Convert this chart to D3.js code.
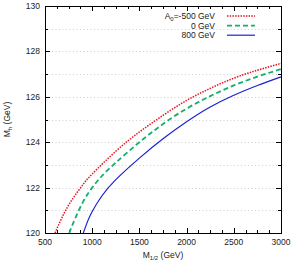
<!DOCTYPE html>
<html lang="en">
<head>
  <meta charset="UTF-8">
  <title>Mh vs M1/2</title>
  <script src="https://d3js.org/d3.v7.min.js"></script>
  <style>
    body { margin: 0; background: #fff; }
    svg text { font-family: "Liberation Sans", Arial, sans-serif; fill: #222; }
  </style>
</head>
<body>
  <svg id="chart" width="293" height="267"></svg>
  <script>
    // data
    const mHalf = [500, 1000, 1500, 2000, 2500, 3000];
    const mhTicks = [120, 122, 124, 126, 128, 130];

    const seriesNames = ["A0=-500 GeV", "0 GeV", "800 GeV"];
    const redPts = [[606, 120], [700, 120.85], [800, 121.55], [900, 122.12], [1000, 122.6], [1250, 123.6],
      [1500, 124.45], [1750, 125.18], [2000, 125.84], [2250, 126.37], [2500, 126.82], [2750, 127.17], [3000, 127.47]];
    const greenPts = [[757, 120], [800, 120.45], [900, 121.35], [1000, 122.0], [1100, 122.5], [1250, 123.1],
      [1500, 124.0], [1750, 124.8], [2000, 125.48], [2250, 126.03], [2500, 126.5], [2750, 126.89], [3000, 127.22]];
    const bluePts = [[906, 120], [950, 120.5], [1000, 120.95], [1100, 121.62], [1250, 122.35], [1500, 123.3],
      [1750, 124.15], [2000, 124.9], [2250, 125.55], [2500, 126.07], [2750, 126.5], [3000, 126.88]];

    const svg = d3.select("#chart");
    const margin = { top: 6, right: 12, bottom: 34, left: 45 };
    const width = 293 - margin.left - margin.right;
    const height = 267 - margin.top - margin.bottom;

    const g = svg.append("g").attr("transform", `translate(${margin.left},${margin.top})`);

    const x = d3.scaleLinear().domain([500, 3000]).range([0, width]);
    const y = d3.scaleLinear().domain([120, 130]).range([height, 0]);

    // horizontal dotted grid
    g.append("g")
      .selectAll("line")
      .data(d3.range(121, 130))
      .enter().append("line")
      .attr("x1", 0).attr("x2", width)
      .attr("y1", d => Math.round(y(d)) + 0.5).attr("y2", d => Math.round(y(d)) + 0.5)
      .attr("stroke", "#bbb")
      .attr("stroke-width", 0.7)
      .attr("stroke-dasharray", "1,2.5");

    // ticks on all four sides, pointing inward
    const xMinor = d3.range(500, 3001, 125);
    const yMinor = d3.range(120, 131, 1);
    const tickG = g.append("g").attr("stroke", "#000").attr("stroke-width", 1);
    xMinor.forEach(v => {
      const len = mHalf.includes(v) ? 5 : 3;
      const px = Math.round(x(v)) + 0.5;
      tickG.append("line").attr("x1", px).attr("x2", px).attr("y1", height).attr("y2", height - len);
      tickG.append("line").attr("x1", px).attr("x2", px).attr("y1", 0).attr("y2", len);
    });
    yMinor.forEach(v => {
      const len = mhTicks.includes(v) ? 5 : 3;
      const py = Math.round(y(v)) + 0.5;
      tickG.append("line").attr("x1", 0).attr("x2", len).attr("y1", py).attr("y2", py);
      tickG.append("line").attr("x1", width).attr("x2", width - len).attr("y1", py).attr("y2", py);
    });

    // tick labels
    g.append("g").selectAll("text")
      .data(mHalf)
      .enter().append("text")
      .attr("x", d => x(d))
      .attr("y", height + 12)
      .attr("text-anchor", "middle")
      .style("font-size", "8.5px")
      .text(d => d);
    g.append("g").selectAll("text")
      .data(mhTicks)
      .enter().append("text")
      .attr("x", -5)
      .attr("y", d => y(d) + 3)
      .attr("text-anchor", "end")
      .style("font-size", "8.5px")
      .text(d => d);

    // frame
    g.append("rect")
      .attr("x", 0.5).attr("y", 0.5)
      .attr("width", width).attr("height", height)
      .attr("fill", "none").attr("stroke", "#000").attr("stroke-width", 1);

    // curves
    const line = d3.line().x(d => x(d[0])).y(d => y(d[1])).curve(d3.curveNatural);
    const styles = [
      { data: redPts, color: "#e3161d", dash: "1.5,1.2", w: 1.5 },
      { data: greenPts, color: "#11b06c", dash: "5,3", w: 1.8 },
      { data: bluePts, color: "#1c22d4", dash: null, w: 1.2 }
    ];
    const plot = g.append("g");
    styles.forEach(s => {
      plot.append("path")
        .datum(s.data)
        .attr("d", line)
        .attr("fill", "none")
        .attr("stroke", s.color)
        .attr("stroke-width", s.w)
        .attr("stroke-dasharray", s.dash);
    });

    // legend
    const legend = g.append("g").attr("transform", `translate(${width - 13},10)`);
    styles.forEach((s, i) => {
      const row = legend.append("g").attr("transform", `translate(0,${i * 9.6})`);
      const t = row.append("text")
        .attr("x", -53).attr("y", 3)
        .attr("text-anchor", "end")
        .style("font-size", "8.5px");
      if (i === 0) {
        t.append("tspan").text("A");
        t.append("tspan").attr("dy", 2).style("font-size", "6px").text("0");
        t.append("tspan").attr("dy", -2).text("=-500 GeV");
      } else {
        t.text(seriesNames[i]);
      }
      row.append("line")
        .attr("x1", -41).attr("x2", -13)
        .attr("y1", 0).attr("y2", 0)
        .attr("stroke", s.color)
        .attr("stroke-width", s.w)
        .attr("stroke-dasharray", s.dash);
    });

    // axis titles
    const xt = svg.append("text")
      .attr("x", margin.left + width / 2)
      .attr("y", 258)
      .attr("text-anchor", "middle")
      .style("font-size", "8.5px");
    xt.append("tspan").text("M");
    xt.append("tspan").attr("dy", 2).style("font-size", "6px").text("1/2");
    xt.append("tspan").attr("dy", -2).text(" (GeV)");

    const yt = svg.append("text")
      .attr("transform", `translate(10,${margin.top + height / 2}) rotate(-90)`)
      .attr("text-anchor", "middle")
      .style("font-size", "8.5px");
    yt.append("tspan").text("M");
    yt.append("tspan").attr("dy", 2).style("font-size", "6px").text("h");
    yt.append("tspan").attr("dy", -2).text(" (GeV)");
  </script>
</body>
</html>
